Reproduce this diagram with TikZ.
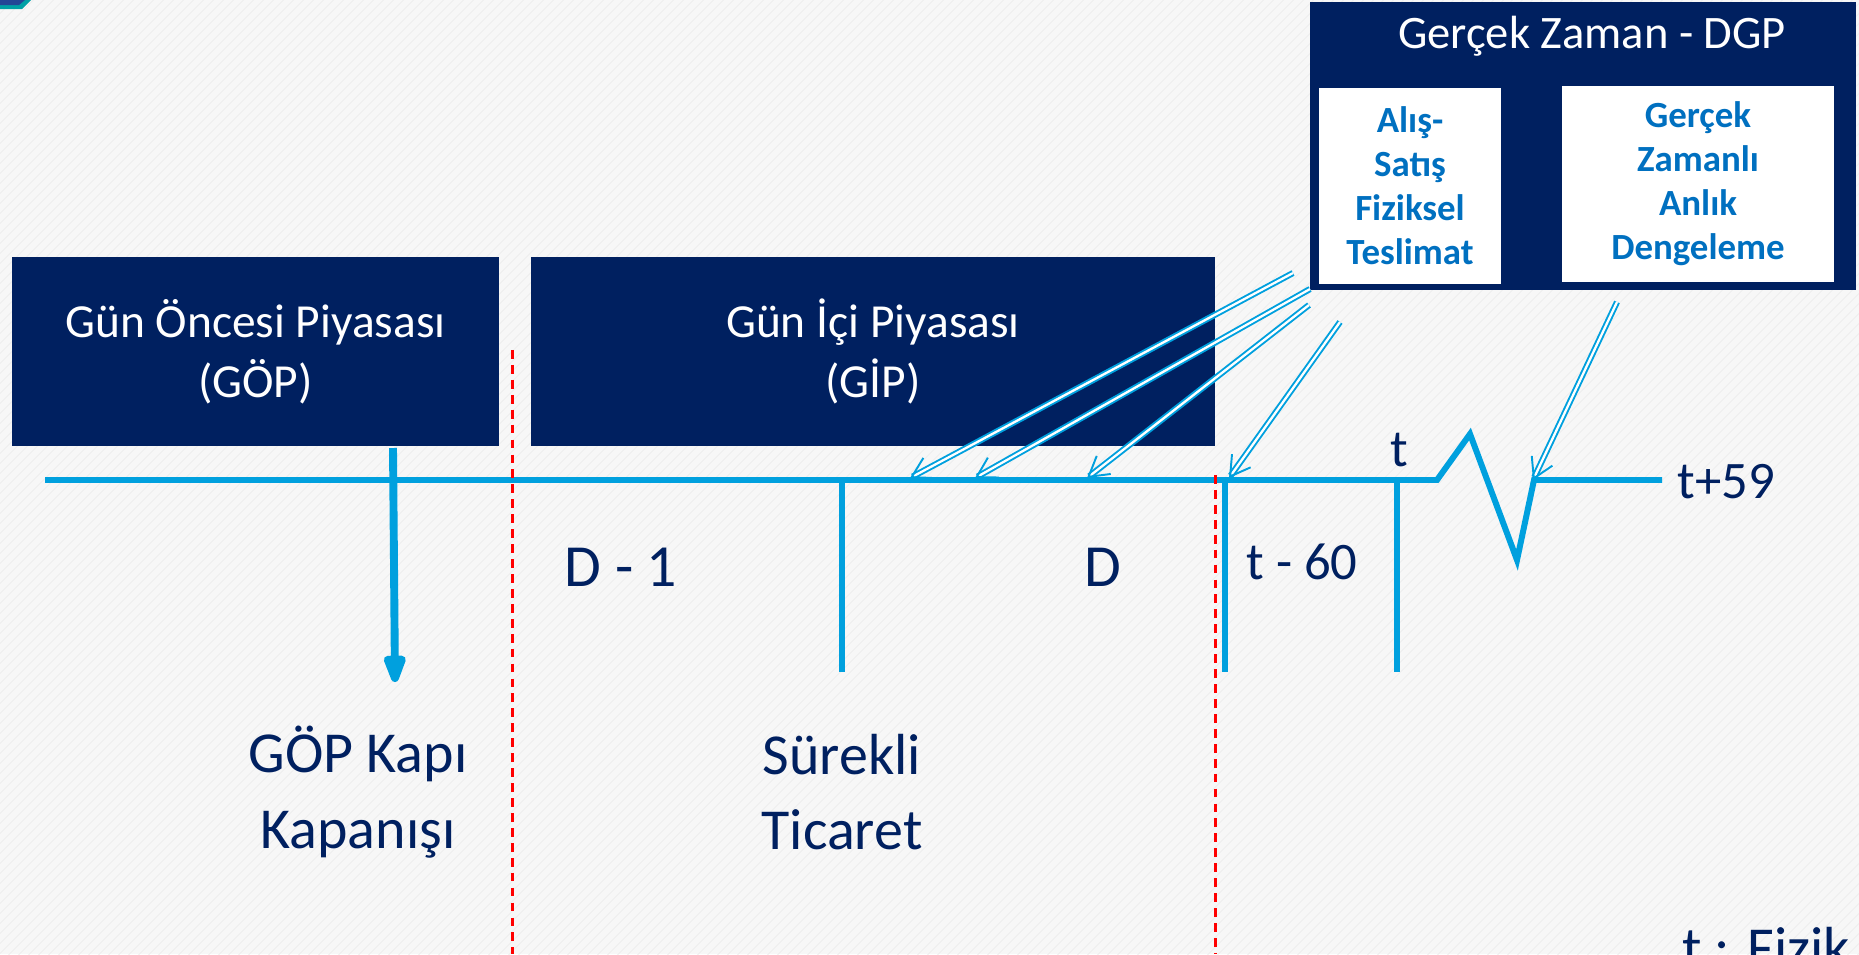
\documentclass[tikz,border=0pt]{standalone}
\usepackage{fontspec}
\setmainfont{Carlito}
\usepackage{xcolor}
\usetikzlibrary{arrows.meta, patterns.meta}

\definecolor{navy}{RGB}{0,32,96}
\definecolor{skyline}{RGB}{0,160,222}
\definecolor{textblue}{RGB}{0,112,192}
\definecolor{cornerteal}{RGB}{0,160,165}
\definecolor{cornerblue}{RGB}{35,70,150}

\tikzset{
	market/.style={fill=navy, text=white, align=center, inner sep=0pt, font=\fontsize{27}{34}\selectfont},
	subbox/.style={fill=white, text=textblue, align=center, inner sep=0pt, font=\fontsize{21}{25}\selectfont\bfseries},
	timeline/.style={draw=skyline, line width=3.4pt},
	gate/.style={draw=red, line width=1.7pt, dash pattern=on 5pt off 3.5pt},
	dgparrow/.style={draw=skyline, double=white, double distance=1.3pt, line width=1.1pt, -{Straight Barb[length=11pt, width=13pt]}},
	biglabel/.style={text=navy, align=center, inner sep=0pt, font=\fontsize{33}{43}\selectfont},
	smalllabel/.style={text=navy, inner sep=0pt, font=\fontsize{30}{35}\selectfont},
}

\begin{document}
\begin{tikzpicture}[x=0.02cm, y=-0.02cm]
	% Background and page size:
	\useasboundingbox (0,0) rectangle (1859,954);
	\fill[black!3] (0,0) rectangle (1859,954);
	\fill[pattern={Lines[angle=45, distance=4pt, line width=0.5pt]}, pattern color=black!7] (0,0) rectangle (1859,954);
	\fill[cornerteal] (0,0) -- (31,0) -- (22,9) -- (0,9) -- cycle;
	\fill[cornerblue] (0,0) -- (25,0) -- (19,5) -- (0,5) -- cycle;

	% Market boxes:
	\node[market, minimum width=9.74cm, minimum height=3.78cm](GOP) at (255.5, 351.5){Gün Öncesi Piyasası\\(GÖP)};
	\node[market, minimum width=13.68cm, minimum height=3.78cm](GIP) at (873, 351.5){Gün İçi Piyasası\\(GİP)};
	\node[fill=navy, minimum width=10.92cm, minimum height=5.76cm, inner sep=0pt](DGP) at (1583, 146){};
	\node[text=white, inner sep=0pt, font=\fontsize{26.5}{32}\selectfont](DGPtitle) at (1592, 36){Gerçek Zaman - DGP};
	\node[subbox, minimum width=3.64cm, minimum height=3.92cm](ASFT) at (1410, 186){Alış-\\Satış\\Fiziksel\\Teslimat};
	\node[subbox, minimum width=5.44cm, minimum height=3.92cm](GZAD) at (1698, 184){Gerçek\\Zamanlı\\Anlık\\Dengeleme};

	% Time axis:
	\coordinate (T0) at (45, 480);
	\coordinate (Z1) at (1437, 480);
	\coordinate (Z2) at (1470, 434);
	\coordinate (Z3) at (1517, 560);
	\coordinate (Z4) at (1534, 480);
	\coordinate (T1) at (1662, 480);
	\draw[timeline] (T0) -- (Z1) -- (Z2) -- (Z3) -- (Z4) -- (T1);
	\coordinate (K1) at (842, 480);
	\coordinate (K1b) at (842, 672);
	\coordinate (K2) at (1225, 480);
	\coordinate (K2b) at (1225, 672);
	\coordinate (K3) at (1397, 480);
	\coordinate (K3b) at (1397, 672);
	\draw[timeline] (K1) -- (K1b);
	\draw[timeline] (K2) -- (K2b);
	\draw[timeline] (K3) -- (K3b);

	% Gate closure arrow:
	\coordinate (G1) at (393, 448);
	\coordinate (G2) at (395, 682);
	\draw[draw=skyline, line width=4.5pt, -{Triangle[length=20pt, width=13pt, round]}] (G1) -- (G2);

	% Red dashed separators:
	\coordinate (R1) at (512, 350);
	\coordinate (R1b) at (512, 954);
	\coordinate (R2) at (1215, 475);
	\coordinate (R2b) at (1215, 954);
	\draw[gate] (R1) -- (R1b);
	\draw[gate] (R2) -- (R2b);

	% Arrows from real time box:
	\coordinate (A1) at (1293, 273);
	\coordinate (A1b) at (910, 478);
	\coordinate (A2) at (1310, 289);
	\coordinate (A2b) at (975, 478);
	\coordinate (A3) at (1309, 305);
	\coordinate (A3b) at (1087, 478);
	\coordinate (A4) at (1340, 322);
	\coordinate (A4b) at (1229, 478);
	\coordinate (A5) at (1617, 302);
	\coordinate (A5b) at (1533, 480);
	\draw[dgparrow] (A1) -- (A1b);
	\draw[dgparrow] (A2) -- (A2b);
	\draw[dgparrow] (A3) -- (A3b);
	\draw[dgparrow] (A4) -- (A4b);
	\draw[dgparrow] (A5) -- (A5b);

	% Labels:
	\node[biglabel](L1) at (358, 792){GÖP Kapı\\Kapanışı};
	\node[biglabel](L2) at (842, 792){Sürekli\\Ticaret};
	\node[biglabel, font=\fontsize{34}{43}\selectfont](L3) at (621, 567){D - 1};
	\node[biglabel, font=\fontsize{34}{43}\selectfont](L4) at (1103, 567){D};
	\node[smalllabel](L5) at (1302, 562){t - 60};
	\node[smalllabel](L6) at (1399, 450){t};
	\node[smalllabel, anchor=west](L7) at (1677, 482){t+59};
	\node[biglabel, anchor=base west](L8) at (1682, 967){t : Fizik};
\end{tikzpicture}
\end{document}
